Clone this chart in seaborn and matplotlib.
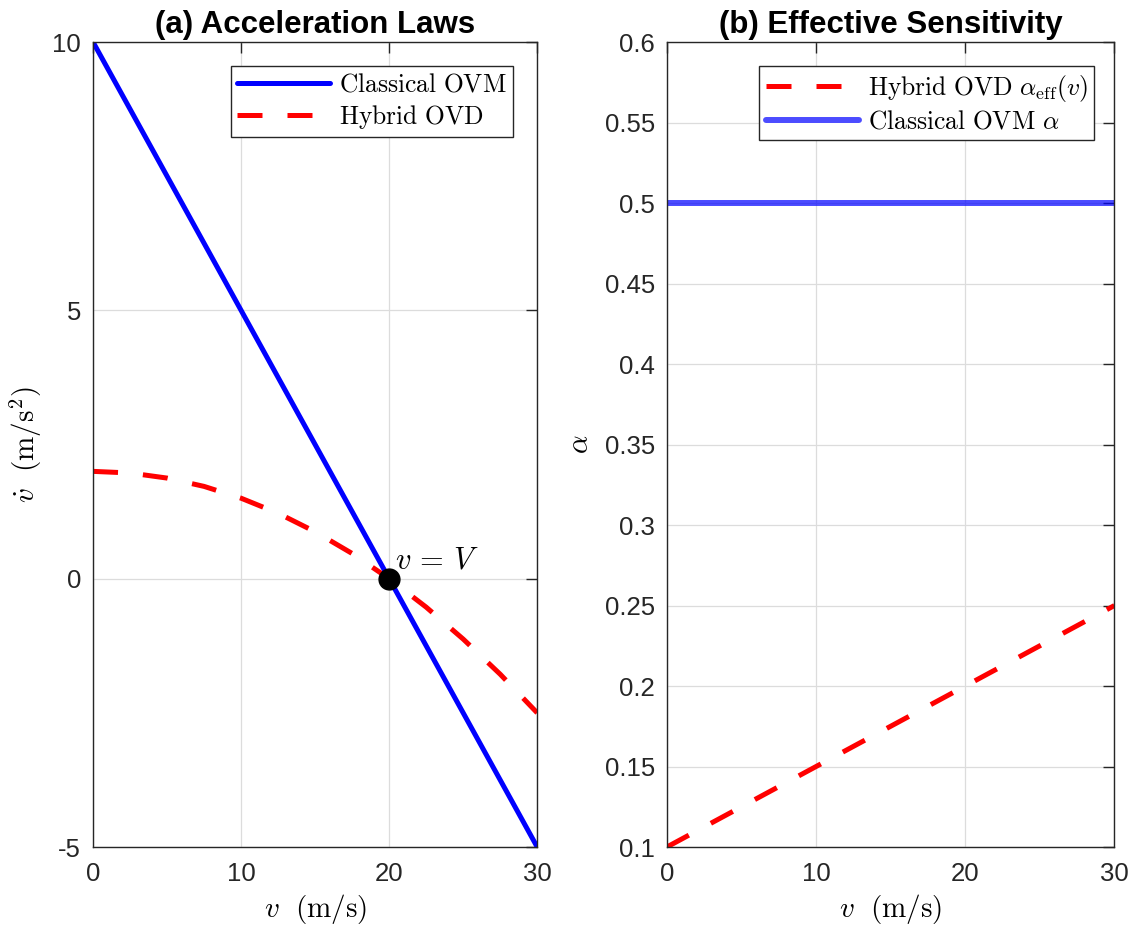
import numpy as np
import pandas as pd
import seaborn as sns
import matplotlib
matplotlib.use('Agg')
import matplotlib.pyplot as plt

# panel (a): acceleration laws
v_lin = [0, 30]
acc_classical = [10, -5]
v_hyb = [0, 2.5, 5, 7.5, 10, 12.5, 15, 17.5, 20, 22.5, 25, 27.5, 30]
acc_hybrid = [2.0, 1.97, 1.875, 1.72, 1.5, 1.22, 0.875, 0.47, 0.0, -0.53, -1.125, -1.78, -2.5]
eq_point = (20, 0)

# panel (b): effective sensitivity
v_alpha = [0, 30]
alpha_eff = [0.1, 0.25]
alpha_classical = [0.5, 0.5]

sns.set_theme(style='white')
plt.rcParams['font.family'] = ['Liberation Sans', 'DejaVu Sans']
plt.rcParams['mathtext.fontset'] = 'cm'
plt.rcParams['axes.unicode_minus'] = False
plt.rcParams['text.color'] = 'black'
plt.rcParams['axes.labelcolor'] = 'black'

fig = plt.figure(figsize=(11.36, 9.3), dpi=100)
ax1 = fig.add_axes([0.0819, 0.0892, 0.391, 0.8656])
ax2 = fig.add_axes([0.587, 0.0892, 0.394, 0.8656])

dash = (5, 5)

df_a = pd.DataFrame({'v': v_lin, 'a': acc_classical})
df_b = pd.DataFrame({'v': v_hyb, 'a': acc_hybrid})
sns.lineplot(data=df_a, x='v', y='a', ax=ax1, color='#0000ff', lw=3.6,
             label=r'$\mathrm{Classical\ OVM}$')
sns.lineplot(data=df_b, x='v', y='a', ax=ax1, color='#ff0000', lw=3.6,
             label=r'$\mathrm{Hybrid\ OVD}$')
ax1.lines[1].set_dashes(dash)
ax1.plot([eq_point[0]], [eq_point[1]], 'o', color='black', ms=15, zorder=5)
ax1.text(eq_point[0] + 0.4, eq_point[1] + 0.19, r'$v\, =\, V$', fontsize=22,
         ha='left', va='baseline')
ax1.set_xlim(0, 30)
ax1.set_ylim(-5, 10)
ax1.set_xticks([0, 10, 20, 30])
ax1.set_yticks([-5, 0, 5, 10])
ax1.set_xlabel(r'$v\ \ (\mathrm{m/s})$', fontsize=21, labelpad=4)
ax1.set_ylabel(r'$\dot{v}\ \ (\mathrm{m/s}^2)$', fontsize=21, labelpad=6)
ax1.set_title('(a) Acceleration Laws', fontsize=22.5, fontweight='bold', pad=6.5)
leg_pos = {ax1: (0.946, 0.970)}

df_c = pd.DataFrame({'v': v_alpha, 'a': alpha_eff})
df_d = pd.DataFrame({'v': v_alpha, 'a': alpha_classical})
sns.lineplot(data=df_c, x='v', y='a', ax=ax2, color='#ff0000', lw=3.6,
             label=r'$\mathrm{Hybrid\ OVD}\ \alpha_{\mathrm{eff}}(v)$')
ax2.lines[0].set_dashes(dash)
sns.lineplot(data=df_d, x='v', y='a', ax=ax2, color='#0000ff', lw=4.3, alpha=0.7,
             label=r'$\mathrm{Classical\ OVM}\ \alpha$')
ax2.set_xlim(0, 30)
ax2.set_ylim(0.1, 0.6)
ax2.set_xticks([0, 10, 20, 30])
yt = np.arange(0.1, 0.601, 0.05)
ax2.set_yticks(yt)
ax2.set_yticklabels([f'{t:g}' for t in np.round(yt, 2)])
ax2.set_xlabel(r'$v\ \ (\mathrm{m/s})$', fontsize=21, labelpad=4)
ax2.set_ylabel(r'$\alpha$', fontsize=21, labelpad=8)
ax2.set_title('(b) Effective Sensitivity', fontsize=22.5, fontweight='bold', pad=6.5)
leg_pos[ax2] = (0.955, 0.970)

for ax in (ax1, ax2):
    ax.grid(True, color='#dcdcdc', lw=0.9)
    ax.set_axisbelow(True)
    for s in ax.spines.values():
        s.set_visible(True)
        s.set_color('#262626')
        s.set_linewidth(1.0)
    ax.tick_params(direction='in', length=8, width=1.0, top=True, right=True,
                   labelsize=18.5, colors='#262626')
    ax.tick_params(axis='x', pad=11)
    ax.tick_params(axis='y', pad=8.5)
    leg = ax.legend(loc='upper right', bbox_to_anchor=leg_pos[ax], fontsize=18.4,
                    handlelength=3.65, fancybox=False, framealpha=1,
                    edgecolor='#262626', borderaxespad=0, handletextpad=0.35,
                    borderpad=0.25, labelspacing=0.25)
    leg.get_frame().set_linewidth(1.0)

fig.savefig('out.png', dpi=100)
